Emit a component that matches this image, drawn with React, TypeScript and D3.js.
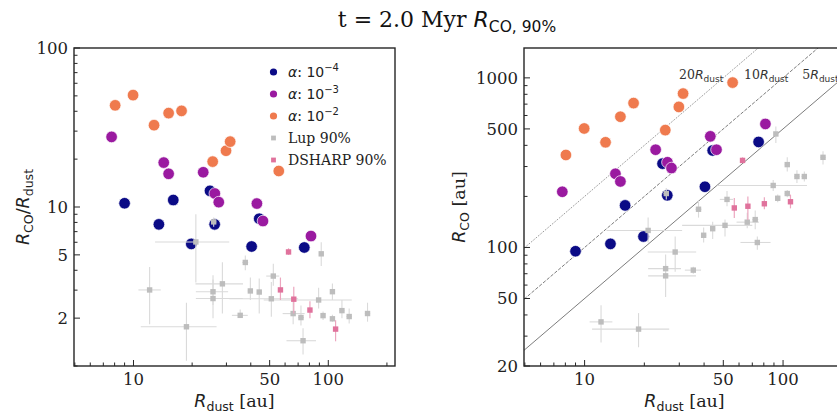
import React from "react";
import * as d3 from "d3";

// ---------- data ----------
// simulations (R_dust [au], R_CO [au])
const a4Rdust = [9.0, 13.5, 16.0, 19.8, 24.7, 26.1, 40.4, 44.2, 75.3];
const a4Rco = [95, 105, 177, 116, 312, 203, 228, 373, 419];
const a3Rdust = [7.72, 14.3, 15.15, 22.8, 26.15, 27.4, 43.0, 46.2, 81.5];
const a3Rco = [213, 272, 245, 377, 318, 294, 452, 377, 535];
const a2Rdust = [8.05, 9.95, 12.75, 15.15, 17.65, 25.5, 29.85, 31.35, 55.7];
const a2Rco = [351, 503, 417, 590, 710, 492, 674, 808, 938];

// Lupus 90% observations
const lupRdust = [12.1, 18.7, 20.9, 25.8, 25.6, 25.6, 28.6, 35.3, 37.5, 39.8, 44.2, 52.2, 51.0, 66.0, 72.4, 74.2, 89.2, 92.0, 94.0, 105, 105, 117.5, 128, 159];
const lupRco = [36.4, 33, 126, 208, 75, 68, 94, 73.5, 168, 118, 129, 192, 135, 141, 146, 107, 232, 467, 195, 308, 208, 262, 262, 340];
const lupRdustLo = [10.6, 10.9, 12.9, 25.0, 20.9, 20.9, 20.8, 32.0, 36.2, 38.6, 43.0, 48.0, 31.0, 58.3, 70.0, 61.0, 46.6, 90.0, 92.0, 102, 102, 114, 124, 154];
const lupRdustHi = [13.8, 26.7, 31.0, 26.6, 30.6, 36.4, 36.5, 38.6, 38.8, 41.0, 45.5, 56.0, 70.0, 75.6, 75.0, 86.5, 132, 94.0, 96.0, 108, 108, 121, 132, 164];
const lupRcoLo = [27.5, 25.8, 107, 192, 66, 51, 72, 70, 150, 107, 112, 175, 116, 130, 128, 97, 215, 413, 185, 280, 198, 240, 245, 308];
const lupRcoHi = [45.6, 41, 150, 224, 91, 80, 116, 77, 190, 131, 142, 215, 146, 160, 165, 116, 250, 517, 205, 340, 218, 285, 280, 369];
const lupRatioLo = [1.83, 1.08, 3.35, 7.5, 2.42, 2.0, 2.14, 2.07, 4.0, 2.6, 2.14, 3.2, 2.04, 1.83, 1.8, 1.18, 2.3, 4.26, 1.95, 2.6, 1.9, 2.0, 1.85, 1.9];
const lupRatioHi = [4.2, 2.5, 9.0, 8.6, 3.72, 3.5, 4.5, 2.27, 4.96, 3.6, 3.55, 4.4, 3.38, 2.53, 2.4, 1.73, 3.1, 6.0, 2.2, 3.3, 2.1, 2.6, 2.3, 2.5];

// DSHARP 90% observations
const dsRdust = [62.5, 56.8, 66.5, 80.5, 109];
const dsRco = [326, 171, 175, 181, 186];
const dsRcoLo = [315, 149, 145, 168, 170];
const dsRcoHi = [340, 196, 200, 198, 205];
const dsRatioLo = [5.0, 2.6, 2.14, 2.0, 1.43];
const dsRatioHi = [5.5, 3.6, 3.15, 2.55, 1.94];

// axes
const xDomain = [4.95, 220];
const xTickLabels = [10, 50, 100];
const leftYDomain = [1, 100];
const leftYTickLabels = [100, 10, 5, 2];
const rightYDomain = [20, 1500];
const rightYTickLabels = [1000, 500, 100, 50, 20];
const lineFactors = [20, 10, 5];
const lineLabelX = [29.9, 63.6, 125];
const lineLabelY = 990;

// ---------- styles ----------
const C = {
  a4: "#0b0b86",
  a3: "#9a1aa0",
  a2: "#ef7a4e",
  lup: "#bdbdbd",
  lupErr: "#dadada",
  ds: "#e0729c",
  dsErr: "#eca6bf",
  spine: "#262626",
  ref: "#5a5a5a",
};
const SERIF = "'DejaVu Serif', serif";
const SANS = "'DejaVu Sans', sans-serif";

function minorTicks(domain: number[]) {
  const out: number[] = [];
  const lo = Math.floor(Math.log10(domain[0]));
  const hi = Math.ceil(Math.log10(domain[1]));
  for (let e = lo; e <= hi; e++) {
    for (let m = 1; m <= 9; m++) {
      const v = m * Math.pow(10, e);
      if (v >= domain[0] * 0.999 && v <= domain[1] * 1.001) out.push(v);
    }
  }
  return out;
}

type PanelProps = {
  id: string;
  x0: number;
  x1: number;
  y0: number;
  y1: number;
  yDomain: number[];
  yTickLabels: number[];
  ratio: boolean;
};

function Panel({ id, x0, x1, y0, y1, yDomain, yTickLabels, ratio }: PanelProps) {
  const x = d3.scaleLog().domain(xDomain).range([x0, x1]);
  const y = d3.scaleLog().domain(yDomain).range([y1, y0]);
  const sim = [
    { rd: a4Rdust, rc: a4Rco, c: C.a4 },
    { rd: a3Rdust, rc: a3Rco, c: C.a3 },
    { rd: a2Rdust, rc: a2Rco, c: C.a2 },
  ];
  const val = (rd: number, rc: number) => (ratio ? rc / rd : rc);
  const sq = 5.4;
  const dsq = 5.4;
  const line = d3.line<number[]>().x((d) => x(d[0])).y((d) => y(d[1]));

  return (
    <g>
      <defs>
        <clipPath id={id}>
          <rect x={x0} y={y0} width={x1 - x0} height={y1 - y0} />
        </clipPath>
      </defs>
      <g clipPath={`url(#${id})`}>
        {!ratio &&
          lineFactors.map((k, i) => (
            <path
              key={k}
              d={line([
                [xDomain[0], xDomain[0] * k],
                [xDomain[1], xDomain[1] * k],
              ]) || ""}
              stroke={C.ref}
              strokeWidth={0.8}
              fill="none"
              strokeDasharray={i === 0 ? "1,1.3" : i === 1 ? "3.5,1.5" : undefined}
            />
          ))}
        {sim.map((s, si) =>
          s.rd.map((rd, i) => (
            <circle
              key={`s${si}-${i}`}
              cx={x(rd)}
              cy={y(val(rd, s.rc[i]))}
              r={5.8}
              fill={s.c}
              stroke="#fff"
              strokeWidth={0.7}
            />
          ))
        )}
        {lupRdust.map((rd, i) => {
          const v = ratio ? lupRco[i] / rd : lupRco[i];
          const lo = ratio ? lupRatioLo[i] : lupRcoLo[i];
          const hi = ratio ? lupRatioHi[i] : lupRcoHi[i];
          return (
            <g key={`le${i}`} stroke={C.lupErr} strokeWidth={1.1}>
              <line x1={x(lupRdustLo[i])} x2={x(lupRdustHi[i])} y1={y(v)} y2={y(v)} />
              <line x1={x(rd)} x2={x(rd)} y1={y(lo)} y2={y(hi)} />
            </g>
          );
        })}
        {lupRdust.map((rd, i) => {
          const v = ratio ? lupRco[i] / rd : lupRco[i];
          return <rect key={`l${i}`} x={x(rd) - sq / 2} y={y(v) - sq / 2} width={sq} height={sq} fill={C.lup} />;
        })}
        {dsRdust.map((rd, i) => {
          const v = ratio ? dsRco[i] / rd : dsRco[i];
          const lo = ratio ? dsRatioLo[i] : dsRcoLo[i];
          const hi = ratio ? dsRatioHi[i] : dsRcoHi[i];
          return (
            <g key={`d${i}`}>
              <line x1={x(rd)} x2={x(rd)} y1={y(lo)} y2={y(hi)} stroke={C.dsErr} strokeWidth={1.2} />
              <rect x={x(rd) - dsq / 2} y={y(v) - dsq / 2} width={dsq} height={dsq} fill={C.ds} />
            </g>
          );
        })}
      </g>
      {!ratio &&
        lineFactors.map((k, i) => (
          <text key={`ll${k}`} x={x(lineLabelX[i])} y={y(lineLabelY)} fontSize={12.5} fill="#333" fontFamily={SERIF}>
            {k}
            <tspan fontFamily={SANS} fontStyle="italic">R</tspan>
            <tspan fontFamily={SANS} fontSize={9} dy={3}>dust</tspan>
          </text>
        ))}
      {/* spines */}
      <rect x={x0} y={y0} width={x1 - x0} height={y1 - y0} fill="none" stroke={C.spine} strokeWidth={1.4} />
      {/* x ticks */}
      {minorTicks(xDomain).map((t) => {
        const major = xTickLabels.includes(t);
        return <line key={`xt${t}`} x1={x(t)} x2={x(t)} y1={y1} y2={y1 - (major ? 6 : 3.5)} stroke={C.spine} strokeWidth={1} />;
      })}
      {xTickLabels.map((t) => (
        <text key={`xl${t}`} x={x(t)} y={y1 + 19} textAnchor="middle" fontSize={16.5} fontFamily={SERIF} fill="#222">
          {t}
        </text>
      ))}
      {/* y ticks */}
      {minorTicks(yDomain).map((t) => {
        const major = yTickLabels.includes(t);
        return <line key={`yt${t}`} x1={x0} x2={x0 + (major ? 6 : 3.5)} y1={y(t)} y2={y(t)} stroke={C.spine} strokeWidth={1} />;
      })}
      {yTickLabels.map((t) => (
        <text key={`yl${t}`} x={x0 - 6} y={y(t)} dy="0.36em" textAnchor="end" fontSize={16.5} fontFamily={SERIF} fill="#222">
          {t}
        </text>
      ))}
      {/* x label */}
      <text x={(x0 + Math.min(x1, 851)) / 2 + (ratio ? 0 : -3)} y={407} textAnchor="middle" fontSize={17.5} fontFamily={SERIF} fill="#222">
        <tspan fontFamily={SANS} fontStyle="italic">R</tspan>
        <tspan fontFamily={SANS} fontSize={12.5} dy={4}>dust</tspan>
        <tspan dy={-4}> [au]</tspan>
      </text>
    </g>
  );
}

export default function App() {
  const legendItems = [
    { c: C.a4, kind: "c", exp: "−4" },
    { c: C.a3, kind: "c", exp: "−3" },
    { c: C.a2, kind: "c", exp: "−2" },
    { c: C.lup, kind: "s", label: "Lup 90%" },
    { c: C.ds, kind: "s", label: "DSHARP 90%" },
  ];
  return (
    <svg width={837} height={415} style={{ position: "absolute", left: 0, top: 0, background: "#fff" }}>
      <rect width={837} height={415} fill="#fff" />
      {/* title */}
      <text x={447} y={27} textAnchor="middle" fontSize={22} fontFamily={SERIF} fill="#111">
        t = 2.0 Myr{" "}
        <tspan fontFamily={SANS} fontStyle="italic">R</tspan>
        <tspan fontFamily={SANS} fontSize={15.5} dy={5}>CO, 90%</tspan>
      </text>

      <Panel id="clipL" x0={74} x1={395} y0={48} y1={366} yDomain={leftYDomain} yTickLabels={leftYTickLabels} ratio={true} />
      <Panel id="clipR" x0={524} x1={851} y0={48} y1={366} yDomain={rightYDomain} yTickLabels={rightYTickLabels} ratio={false} />

      {/* y labels */}
      <text transform="translate(29,207) rotate(-90)" textAnchor="middle" fontSize={17.5} fontFamily={SANS} fill="#222">
        <tspan fontStyle="italic">R</tspan>
        <tspan fontSize={12.5} dy={4}>CO</tspan>
        <tspan dy={-4}>/</tspan>
        <tspan fontStyle="italic">R</tspan>
        <tspan fontSize={12.5} dy={4}>dust</tspan>
      </text>
      <text transform="translate(465,207) rotate(-90)" textAnchor="middle" fontSize={17.5} fontFamily={SERIF} fill="#222">
        <tspan fontFamily={SANS} fontStyle="italic">R</tspan>
        <tspan fontFamily={SANS} fontSize={12.5} dy={4}>CO</tspan>
        <tspan dy={-4}> [au]</tspan>
      </text>

      {/* legend */}
      {legendItems.map((it, i) => {
        const cy = 72 + i * 22;
        return (
          <g key={`lg${i}`}>
            {it.kind === "c" ? (
              <circle cx={273.5} cy={cy} r={3.6} fill={it.c} />
            ) : (
              <rect x={273.5 - 2.4} y={cy - 2.4} width={4.8} height={4.8} fill={it.c} />
            )}
            {it.kind === "c" ? (
              <text x={288} y={cy + 5} fontSize={14} fontFamily={SERIF} fill="#222">
                <tspan fontFamily={SANS} fontStyle="italic">α</tspan>
                <tspan>: </tspan>
                <tspan fontFamily={SANS}>10</tspan>
                <tspan fontFamily={SANS} fontSize={10} dy={-6}>{it.exp}</tspan>
              </text>
            ) : (
              <text x={288} y={cy + 5} fontSize={14} fontFamily={SERIF} fill="#222">
                {it.label}
              </text>
            )}
          </g>
        );
      })}
    </svg>
  );
}
